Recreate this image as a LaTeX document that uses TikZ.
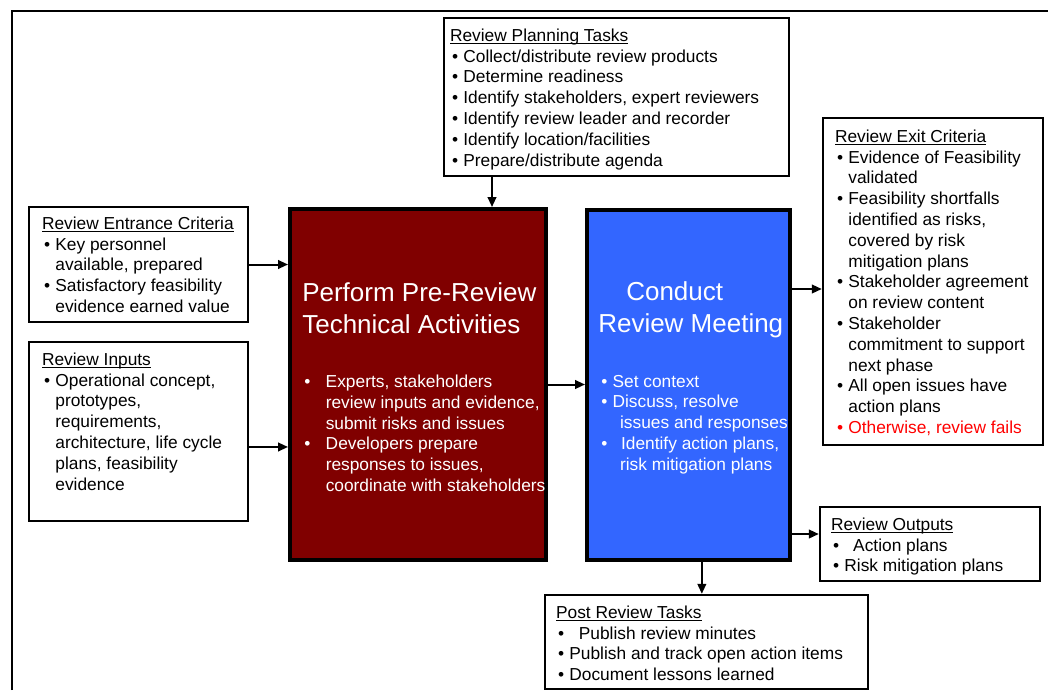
\documentclass[tikz,border=0pt]{standalone}
\usepackage{fontspec}
\setmainfont{Liberation Sans}
\usetikzlibrary{arrows.meta,fit}

\definecolor{prered}{RGB}{128,0,0}
\definecolor{meetblue}{RGB}{51,102,255}
\definecolor{failred}{RGB}{255,0,0}

% bullet, hanging indent, close underline
\newcommand{\bl}[1][10pt]{\makebox[#1][l]{\hspace{1.5pt}\textbullet}}
\newcommand{\bcont}[1][10pt]{\hspace*{#1}}
\newcommand{\hdline}[1]{\setbox0\hbox{#1}\rlap{\rule[-1.7pt]{\wd0}{0.75pt}}\box0}

\begin{document}
\begin{tikzpicture}[x=0.75pt,y=-0.75pt,>={Triangle[length=7.5pt,width=6.5pt]},
    wbox/.style={draw,line width=1.8pt,fill=white,inner sep=0pt},
    cbox/.style={draw,line width=3pt,inner sep=0pt},
    txt/.style={anchor=north west,align=left,inner sep=0pt,font=\fontsize{13}{15.6}\selectfont,
      execute at begin node={\rule{0pt}{10pt}}},
    bigtitle/.style={anchor=north west,align=left,inner sep=0pt,text=white,font=\fontsize{19.5}{24.4}\selectfont,
      execute at begin node={\rule{0pt}{15pt}}},
    arr/.style={->,line width=1.5pt}]

\useasboundingbox (0,0) rectangle (1048,690);
\draw[line width=1.8pt] (12,690) -- (12,11) -- (1048,11);

% boxes
\node[wbox,fit={(444,18) (789,176)}] (plan) {};
\node[wbox,fit={(29,207) (248,322)}] (entry) {};
\node[wbox,fit={(29,342) (248,521)}] (inputs) {};
\node[cbox,fill=prered,fit={(290,209) (546,560)}] (perform) {};
\node[cbox,fill=meetblue,fit={(587,210) (790,560)}] (conduct) {};
\node[wbox,fit={(823,118) (1043,445)}] (exitc) {};
\node[wbox,fit={(820,507) (1040,581)}] (outputs) {};
\node[wbox,fit={(545,595) (868,689)}] (post) {};

% texts
\node[txt] (plan-txt) at ([shift={(7,11.7)}]plan.north west) {\hdline{Review Planning Tasks}\\
  \bl Collect/distribute review products\\
  \bl Determine readiness\\
  \bl Identify stakeholders, expert reviewers\\
  \bl Identify review leader and recorder\\
  \bl Identify location/facilities\\
  \bl Prepare/distribute agenda};
\node[txt] (entry-txt) at ([shift={(14,10.7)}]entry.north west) {\hdline{Review Entrance Criteria}\\
  \bl Key personnel\\
  \bcont available, prepared\\
  \bl Satisfactory feasibility\\
  \bcont evidence earned value};
\node[txt] (inputs-txt) at ([shift={(14,11.7)}]inputs.north west) {\hdline{Review Inputs}\\
  \bl Operational concept,\\
  \bcont prototypes,\\
  \bcont requirements,\\
  \bcont architecture, life cycle\\
  \bcont plans, feasibility\\
  \bcont evidence};
\node[bigtitle] (perform-title) at ([shift={(14,75)}]perform.north west) {Perform Pre-Review\\Technical Activities};
\node[txt,text=white] (perform-txt) at ([shift={(14,167.7)}]perform.north west) {\bl[14pt] Experts, stakeholders\\
  \bcont[14pt] review inputs and evidence,\\
  \bcont[14pt] submit risks and issues\\
  \bl[14pt] Developers prepare\\
  \bcont[14pt] responses to issues,\\
  \bcont[14pt] coordinate with stakeholders};
\node[bigtitle] (conduct-title) at ([shift={(13,73)}]conduct.north west) {\hspace*{21pt}Conduct\\Review Meeting};
\node[txt,text=white] (conduct-txt) at ([shift={(14,166.7)}]conduct.north west) {\bl Set context\\
  \bl Discuss, resolve\\
  \bcont[12pt] issues and responses\\
  \bl[12.75pt] Identify action plans,\\
  \bcont[12pt] risk mitigation plans};
\node[txt] (exitc-txt) at ([shift={(13,12.7)}]exitc.north west) {\hdline{Review Exit Criteria}\\
  \bl Evidence of Feasibility\\
  \bcont validated\\
  \bl Feasibility shortfalls\\
  \bcont identified as risks,\\
  \bcont covered by risk\\
  \bcont mitigation plans\\
  \bl Stakeholder agreement\\
  \bcont on review content\\
  \bl Stakeholder\\
  \bcont commitment to support\\
  \bcont next phase\\
  \bl All open issues have\\
  \bcont action plans\\
  \textcolor{failred}{\bl Otherwise, review fails}};
\node[txt] (outputs-txt) at ([shift={(12,11.7)}]outputs.north west) {\hdline{Review Outputs}\\
  \bl[13pt] Action plans\\
  \bl Risk mitigation plans};
\node[txt] (post-txt) at ([shift={(12,11.7)}]post.north west) {\hdline{Post Review Tasks}\\
  \bl[13.5pt] Publish review minutes\\
  \bl Publish and track open action items\\
  \bl Document lessons learned};

% connectors
\draw[arr] ([xshift=55.5pt]perform.north |- plan.south) -- ([xshift=55.5pt]perform.north);
\draw[arr] (entry.east) -- (entry.east -| perform.west);
\draw[arr] ([yshift=-11.6pt]inputs.east) -- ([yshift=-11.6pt]inputs.east -| perform.west);
\draw[arr] (perform.east) -- (perform.east -| conduct.west);
\draw[arr] ([yshift=72pt]conduct.east) -- ([yshift=72pt]conduct.east -| exitc.west);
\draw[arr] ([yshift=7.5pt]outputs.west -| conduct.east) -- ([yshift=7.5pt]outputs.west);
\draw[arr] ([xshift=10pt]conduct.south) -- ([xshift=10pt]conduct.south |- post.north);
\end{tikzpicture}
\end{document}
